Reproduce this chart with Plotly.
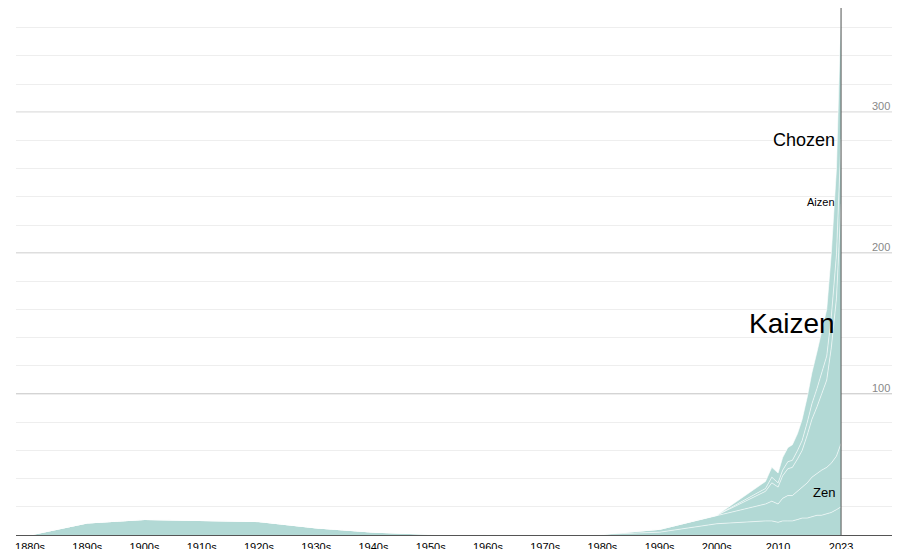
import plotly.graph_objects as go

periods = ["1880s","1890s","1900s","1910s","1920s","1930s","1940s","1950s","1960s","1970s","1980s","1990s","2000s",
           "2008","2009","2010","2011","2012","2013","2014","2015","2016","2017","2018","2019","2020","2021","2022","2023"]
# horizontal position of each period on the chart's own scale (decades evenly spaced, recent years compressed)
positions = [0,1,2,3,4,5,6,7,8,9,10,11,12,
             12.85,12.96,13.07,13.15,13.24,13.32,13.41,13.49,13.58,13.66,13.75,13.83,13.92,14.0,14.09,14.17]

other  = [0,8.5,11,10,9.5,5,2,0.5,0,0.3,0.5,2,8, 10,10,9,10,10,10,11,12,12,13,14,14,15,16,18,20]
zen    = [0,0,0,0,0,0,0,0,0,0,0,2,6, 12,14,13,16,18,18,20,22,25,28,30,32,33,35,38,45]
kaizen = [0]*13 + [9,13,12,16,19,20,23,26,34,41,47,54,62,82,112,170]
aizen  = [0]*13 + [2,4,3,4,5,5,6,7,9,11,13,15,17,22,31,46]
chozen = [0]*13 + [5,7,7,9,10,11,12,15,18,22,26,30,33,45,61,94]

tick_labels = ["1880s","1890s","1900s","1910s","1920s","1930s","1940s","1950s","1960s","1970s","1980s","1990s","2000s","2010","2023"]
tick_pos = [0,1,2,3,4,5,6,7,8,9,10,11,12,13.07,14.17]

fig = go.Figure()
for name, vals in [("Other", other), ("Zen", zen), ("Kaizen", kaizen), ("Aizen", aizen), ("Chozen", chozen)]:
    fig.add_trace(go.Scatter(x=positions, y=vals, name=name, stackgroup="a", mode="lines",
                             line=dict(color="white", width=0.6), fillcolor="#b2d9d5", hoverinfo="skip"))

for v in [100, 200, 300]:
    fig.add_shape(type="line", xref="paper", x0=0, x1=1, y0=v, y1=v, line=dict(color="#999", width=1), layer="between")
    fig.add_annotation(xref="paper", x=0.995, y=v, text=str(v), showarrow=False, xanchor="right", yanchor="bottom",
                       font=dict(size=11, color="#888", family="Arial"), yshift=-2)
fig.add_shape(type="line", x0=14.17, x1=14.17, yref="paper", y0=0, y1=1, line=dict(color="#555", width=1))

for txt, y, sz in [("Chozen", 280, 18), ("Aizen", 236, 11), ("Kaizen", 150, 28), ("Zen", 30, 13)]:
    fig.add_annotation(x=14.1, y=y, text=txt, showarrow=False, xanchor="right",
                       font=dict(size=sz, color="black", family="Arial"))

fig.update_layout(width=900, height=549, margin=dict(l=8, r=12, t=0, b=22, autoexpand=False),
                  plot_bgcolor="white", paper_bgcolor="white", showlegend=False,
                  xaxis=dict(range=[-0.245, 15.13], tickvals=tick_pos, ticktext=tick_labels, showgrid=False,
                             zeroline=False, showline=True, linecolor="#555", tickfont=dict(size=11, family="Arial", color="black"),
                             ticks="", ticklabelstandoff=2, fixedrange=True),
                  yaxis=dict(range=[0, 374], dtick=20, gridcolor="#eee", showticklabels=False, zeroline=False, ticks=""))
fig.write_html("out.html")
